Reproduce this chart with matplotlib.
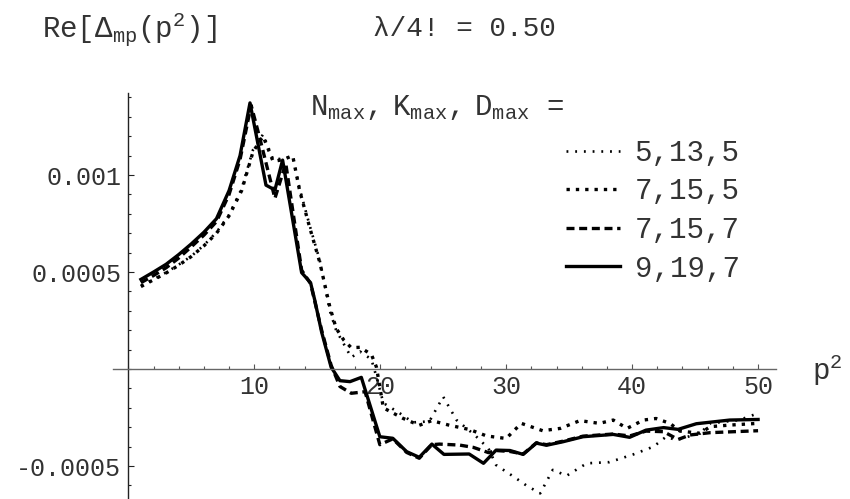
import numpy as np
import matplotlib
matplotlib.use('Agg')
import matplotlib.pyplot as plt
from matplotlib.ticker import MultipleLocator, FixedLocator

plt.rcParams['font.family'] = ['Liberation Mono', 'DejaVu Sans Mono']
plt.rcParams['mathtext.fontset'] = 'custom'
plt.rcParams['mathtext.rm'] = 'Liberation Mono'
plt.rcParams['mathtext.it'] = 'Liberation Mono'

# Re[Delta_mp(p^2)], one list per truncation
solid_x = [1, 2, 3, 4, 5, 6, 7, 8, 8.87, 9.66, 10.93, 11.64, 12.25, 13.76, 14.47, 14.8,
           15.35, 16.1, 16.8, 17.6, 18.5, 19.97, 21.0, 22.1, 23.1, 24.1, 25.06, 27.06,
           28.2, 29.2, 30.3, 31.35, 32.4, 33.2, 34.5, 36.1, 38.5, 39.8, 41.1, 42.5,
           43.65, 45.1, 47.75, 50.0]
solid_y = [4.62e-4, 5.0e-4, 5.4e-4, 5.9e-4, 6.45e-4, 7.05e-4, 7.75e-4, 9.2e-4, 1.1e-3,
           1.372e-3, 9.48e-4, 9.23e-4, 1.077e-3, 4.97e-4, 4.45e-4, 3.56e-4, 1.9e-4,
           1.0e-5, -6.0e-5, -6.5e-5, -4.3e-5, -3.49e-4, -3.57e-4, -4.26e-4, -4.55e-4,
           -3.87e-4, -4.4e-4, -4.38e-4, -4.86e-4, -4.18e-4, -4.2e-4, -4.4e-4, -3.82e-4,
           -3.93e-4, -3.75e-4, -3.49e-4, -3.37e-4, -3.52e-4, -3.15e-4, -3.02e-4,
           -3.11e-4, -2.82e-4, -2.63e-4, -2.6e-4]

dash_x = [1, 2, 3, 4, 5, 6, 7, 8, 8.87, 9.75, 10.4, 11.64, 12.5, 13.76, 14.47, 15.35,
          16.1, 16.8, 17.7, 18.8, 19.97, 21.0, 22.1, 23.1, 24.1, 24.7, 26.3, 27.4, 28.6,
          29.2, 30.3, 31.35, 32.4, 33.2, 34.5, 36.1, 38.5, 39.8, 41.1, 42.5, 43.65,
          44.6, 46.2, 50.0]
dash_y = [4.45e-4, 4.82e-4, 5.22e-4, 5.72e-4, 6.3e-4, 6.9e-4, 7.6e-4, 9.0e-4, 1.08e-3,
          1.36e-3, 1.2e-3, 8.8e-4, 1.06e-3, 5.1e-4, 4.4e-4, 2.0e-4, 2e-5, -9e-5,
          -1.25e-4, -1.17e-4, -3.9e-4, -3.6e-4, -4.3e-4, -4.6e-4, -3.9e-4, -3.87e-4,
          -3.92e-4, -4.04e-4, -4.31e-4, -4.2e-4, -4.25e-4, -4.38e-4, -3.8e-4, -3.9e-4,
          -3.72e-4, -3.46e-4, -3.35e-4, -3.45e-4, -3.2e-4, -3.23e-4, -3.63e-4,
          -3.4e-4, -3.28e-4, -3.18e-4]

coarse_x = [1, 2, 3, 4, 5, 6, 7, 8, 9.0, 9.9, 10.7, 11.5, 12.3, 13.05, 13.6, 14.4, 15.2,
            16.0, 16.5, 17.1, 17.7, 18.4, 19.3, 19.7, 20.25, 21.8, 23.1, 24.1, 25.5,
            27.1, 28.45, 30.0, 31.2, 32.9, 34.3, 35.85, 37.4, 38.5, 39.6, 40.9, 41.9,
            43.0, 43.8, 45.4, 46.2, 47.75, 50.0]
coarse_y = [4.25e-4, 4.6e-4, 4.95e-4, 5.35e-4, 5.8e-4, 6.35e-4, 7.0e-4, 7.9e-4, 9.2e-4,
            1.12e-3, 1.2e-3, 1.07e-3, 1.08e-3, 1.1e-3, 9.2e-4, 7.3e-4, 5.5e-4, 3.2e-4,
            2.1e-4, 1.5e-4, 1.1e-4, 1.12e-4, 7.5e-5, 1.0e-5, -2.0e-4, -2.54e-4, -2.9e-4,
            -2.66e-4, -2.9e-4, -3.12e-4, -3.45e-4, -3.58e-4, -2.8e-4, -3.18e-4, -3.06e-4,
            -2.66e-4, -2.8e-4, -2.63e-4, -3.06e-4, -2.63e-4, -2.55e-4, -2.8e-4, -3.2e-4,
            -3.31e-4, -2.97e-4, -2.89e-4, -2.8e-4]

fine_x = [1, 2, 3, 4, 5, 6, 7, 8, 9.0, 9.9, 10.7, 11.5, 12.3, 13.05, 13.6, 14.4, 15.2,
          16.0, 16.5, 17.1, 17.7, 18.4, 19.3, 19.7, 20.25, 21.6, 22.6, 23.9, 25.0, 26.06,
          27.5, 28.6, 29.2, 30.6, 31.6, 32.7, 33.7, 34.8, 36.4, 38.2, 40.1, 41.7, 42.7,
          43.5, 45.4, 46.2, 48.5, 50.0]
fine_y = [4.3e-4, 4.62e-4, 4.98e-4, 5.38e-4, 5.82e-4, 6.38e-4, 7.05e-4, 7.95e-4, 9.3e-4,
          1.13e-3, 1.21e-3, 1.08e-3, 1.085e-3, 1.095e-3, 9.3e-4, 7.4e-4, 5.6e-4, 3.0e-4,
          2.0e-4, 1.3e-4, 6e-5, 9e-5, 5e-5, -4e-5, -1.75e-4, -2.3e-4, -2.75e-4, -2.7e-4,
          -1.43e-4, -2.63e-4, -3.4e-4, -4.1e-4, -4.95e-4, -5.55e-4, -6.0e-4, -6.41e-4,
          -5.2e-4, -5.5e-4, -4.86e-4, -4.8e-4, -4.4e-4, -4.0e-4, -3.49e-4, -3.66e-4,
          -3.31e-4, -2.8e-4, -2.63e-4, -2.28e-4]

labels = ['5,13,5', '7,15,5', '7,15,7', '9,19,7']
x_ticks = [10, 20, 30, 40, 50]
y_ticks = [-0.0005, 0.0005, 0.001]
y_tick_labels = ['-0.0005', '0.0005', '0.001']

W, H = 850, 499
fig = plt.figure(figsize=(W / 100, H / 100), dpi=100)
ax = fig.add_axes([112.7 / W, 0, 663 / W, 1 - 93 / H])

ax.plot(fine_x, fine_y, color='black', lw=1.9, ls=(0, (0.7, 2.6)), label=labels[0])
ax.plot(coarse_x, coarse_y, color='black', lw=2.4, ls=(0, (1.0, 1.8)), label=labels[1])
ax.plot(dash_x, dash_y, color='black', lw=2.4, ls=(0, (2.4, 1.4)), label=labels[2])
ax.plot(solid_x, solid_y, color='black', lw=2.4, ls='-', label=labels[3])

ax.set_xlim(-1.24, 51.4)
ax.set_ylim(-0.00067, 0.001423)

for s in ['top', 'right']:
    ax.spines[s].set_visible(False)
ax.spines['left'].set_position(('data', 0))
ax.spines['bottom'].set_position(('data', 0))
ax.spines['left'].set_color('#222222')
ax.spines['bottom'].set_color('#666666')
ax.spines['left'].set_linewidth(1.0)
ax.spines['bottom'].set_linewidth(1.0)

ax.xaxis.set_major_locator(FixedLocator(x_ticks))
ax.xaxis.set_minor_locator(MultipleLocator(2))
ax.set_xticklabels([str(t) for t in x_ticks])
ax.yaxis.set_major_locator(FixedLocator(y_ticks))
ax.yaxis.set_minor_locator(MultipleLocator(0.0001))
ax.set_yticklabels(y_tick_labels)

ax.tick_params(axis='x', which='major', direction='in', length=3.5, width=0.8,
               colors='#555555', labelcolor='#333333', labelsize=18, pad=4)
ax.tick_params(axis='x', which='minor', direction='in', length=2.2, width=0.8, colors='#555555')
ax.tick_params(axis='y', which='major', direction='in', length=4.5, width=0.8,
               colors='#222222', labelcolor='#333333', labelsize=18, pad=5)
ax.tick_params(axis='y', which='minor', direction='in', length=2.5, width=0.8, colors='#222222')

# texts around the frame
fig.text(42 / W, 1 - 29 / H, r'$\mathrm{Re[\Delta_{mp}(p^2)]}$', fontsize=21,
         va='center', ha='left', color='#333333')
fig.text(373 / W, 1 - 29 / H, 'λ/4! = 0.50', fontsize=20, va='center', ha='left',
         color='#333333')
fig.text(310 / W, 1 - 108 / H,
         r'$\mathrm{N_{max}},\ \mathrm{K_{max}},\ \mathrm{D_{max}}$ =',
         fontsize=21, va='center', ha='left', color='#333333')
fig.text(812 / W, 1 - 370 / H, r'$\mathrm{p^2}$', fontsize=21, va='center', ha='left',
         color='#333333')

leg = fig.legend(loc='upper left', bbox_to_anchor=(566 / W, 1 - 139 / H), frameon=False,
                 fontsize=21, handlelength=1.85, handletextpad=0.5, labelspacing=0.36,
                 borderpad=0, borderaxespad=0)
for t in leg.get_texts():
    t.set_color('#333333')

fig.savefig('out.png', dpi=100)
